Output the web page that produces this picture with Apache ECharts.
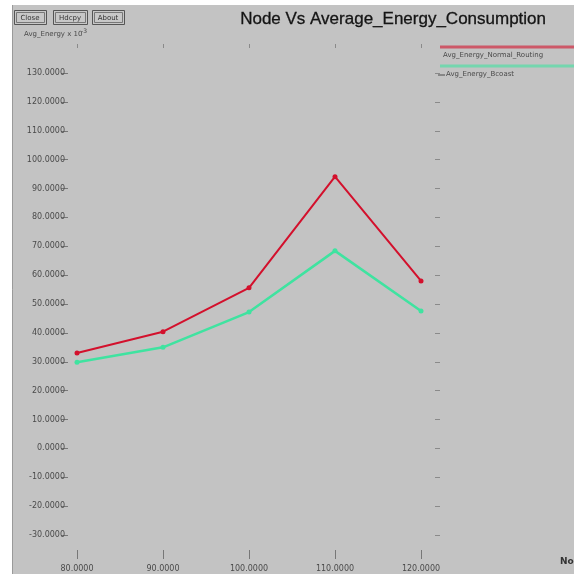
<!DOCTYPE html>
<html>
<head>
<meta charset="utf-8">
<script src="https://cdn.jsdelivr.net/npm/echarts@6/dist/echarts.min.js"></script>
<style>
html,body{margin:0;padding:0;background:#ffffff;}
#c{width:574px;height:577px;}
</style>
</head>
<body>
<div id="c"></div>
<script>
var nodes = [80, 90, 100, 110, 120];
var seriesNames = ['Avg_Energy_Normal_Routing', 'Avg_Energy_Bcoast'];
var normalRouting = [33.0, 40.4, 55.6, 94.1, 58.0];
var bcoast = [29.8, 35.0, 47.2, 68.4, 47.6];
var buttons = ['Close', 'Hdcpy', 'About'];
var titleText = 'Node Vs Average_Energy_Consumption';
var yLabel = 'Avg_Energy x 10';
var xLabel = 'Node';

var RED = '#d3102c';
var GREEN = '#3fe3a0';
var TXT = '#4a4a4a';

function pairs(vals){ return nodes.map(function(n,i){ return [n, vals[i]]; }); }
function fmt(v){ return v.toFixed(4); }

var chart = echarts.init(document.getElementById('c'), null, {renderer:'canvas'});

var graphics = [
  {type:'rect', z:-10, shape:{x:12, y:5, width:562, height:569}, style:{fill:'#c3c3c3'}},
  {type:'line', z:-9, shape:{x1:12.5, y1:5, x2:12.5, y2:574}, style:{stroke:'#9a9a9a', lineWidth:1}},
  {type:'text', left:240, top:11, style:{text:titleText, font:'17px "Liberation Sans", Arial, sans-serif', fill:'#141414', stroke:'#141414', lineWidth:0.3}},
  {type:'text', left:24, top:31, style:{text:yLabel, font:'7px "DejaVu Sans", sans-serif', fill:TXT}},
  {type:'text', left:81, top:28, style:{text:'-3', font:'6px "DejaVu Sans", sans-serif', fill:TXT}},
  {type:'text', left:560, top:557, style:{text:xLabel, font:'bold 9px "DejaVu Sans", sans-serif', fill:'#333'}}
];
var bx = [14, 53, 92], bw = [32, 34, 32];
buttons.forEach(function(b,i){
  graphics.push({type:'rect', shape:{x:bx[i]+0.5, y:10.5, width:bw[i], height:14}, style:{fill:'#c8c8c8', stroke:'#555', lineWidth:1}});
  graphics.push({type:'rect', shape:{x:bx[i]+2.5, y:12.5, width:bw[i]-4, height:10}, style:{fill:'none', stroke:'#777', lineWidth:1}});
  graphics.push({type:'text', x:bx[i]+bw[i]/2, y:18, style:{text:b, font:'7px "DejaVu Sans", sans-serif', fill:'#333', align:'center', verticalAlign:'middle'}});
});
// legend
var legCol = [RED, GREEN];
var legY = [47, 66];
seriesNames.forEach(function(n,i){
  graphics.push({type:'line', shape:{x1:440, y1:legY[i], x2:574, y2:legY[i]}, style:{stroke:legCol[i], lineWidth:3, opacity:0.6}});
  graphics.push({type:'text', left:(i===0?443:446), top:legY[i]+5, style:{text:n, font:'7px "DejaVu Sans", sans-serif', fill:TXT}});
});
graphics.push({type:'line', shape:{x1:438, y1:75, x2:445, y2:75}, style:{stroke:TXT, lineWidth:1}});

var option = {
  animation:false,
  backgroundColor:'transparent',
  graphic:graphics,
  grid:{left:77, right:153, top:73, bottom:42, containLabel:false},
  xAxis:[
    {type:'value', min:80, max:120, interval:10, position:'bottom', offset:15,
     axisLine:{show:false, onZero:false}, splitLine:{show:false},
     axisTick:{show:true, length:9, lineStyle:{color:'#777'}},
     axisLabel:{margin:15, fontSize:8, color:TXT, fontFamily:'DejaVu Sans', formatter:fmt}},
    {type:'value', min:80, max:120, interval:10, position:'top', offset:25,
     axisLine:{show:false, onZero:false}, splitLine:{show:false},
     axisTick:{show:true, length:4, lineStyle:{color:'#8a8a8a'}},
     axisLabel:{show:false}}
  ],
  yAxis:[
    {type:'value', min:-30, max:130, interval:10, position:'left', offset:9,
     axisLine:{show:false, onZero:false}, splitLine:{show:false},
     axisTick:{show:true, length:7, lineStyle:{color:'#777'}},
     axisLabel:{margin:3, fontSize:8, color:TXT, fontFamily:'DejaVu Sans', formatter:fmt}},
    {type:'value', min:-30, max:130, interval:10, position:'right', offset:14,
     axisLine:{show:false, onZero:false}, splitLine:{show:false},
     axisTick:{show:true, length:5, lineStyle:{color:'#8a8a8a'}},
     axisLabel:{show:false}}
  ],
  series:[
    {name:seriesNames[0], type:'line', data:pairs(normalRouting), xAxisIndex:0, yAxisIndex:0,
     symbol:'circle', symbolSize:5, showSymbol:true, clip:false,
     lineStyle:{color:RED, width:2}, itemStyle:{color:RED}},
    {name:seriesNames[1], type:'line', data:pairs(bcoast), xAxisIndex:0, yAxisIndex:0,
     symbol:'circle', symbolSize:5, showSymbol:true, clip:false,
     lineStyle:{color:GREEN, width:2.5}, itemStyle:{color:GREEN}}
  ]
};
chart.setOption(option);
</script>
</body>
</html>
